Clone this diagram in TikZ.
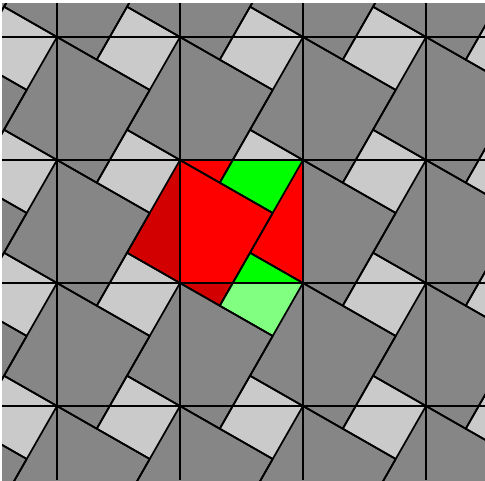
\documentclass[tikz,border=0pt]{standalone}
\usepackage{xcolor}
\definecolor{bigtile}{HTML}{868686}
\definecolor{smalltile}{HTML}{CACACA}
\definecolor{hypred}{HTML}{FF0000}
\definecolor{outred}{HTML}{D20000}
\definecolor{hypgreen}{HTML}{00FF00}
\definecolor{outgreen}{HTML}{80FF80}
\usetikzlibrary{calc}
\tikzset{
  bigfill/.style  ={fill=bigtile},
  smallfill/.style={fill=smalltile},
  tileedge/.style ={draw=black,line width=1.7pt,line join=round},
  gridline/.style ={draw=black,line width=1.5pt},
}
\newcommand{\side}{123}
\newcommand{\tilt}{29.74}
\newcommand{\bigsq}[1]{(#1) -- ++(\tilt:\bigside) -- ++(\tilt+90:\bigside) -- ++(\tilt+180:\bigside) -- cycle}
\newcommand{\smallsq}[1]{(#1) -- ++(\tilt+180:\smallside) -- ++(\tilt+90:\smallside) -- ++(\tilt:\smallside) -- cycle}

\begin{document}
\begin{tikzpicture}[x=1pt,y=-1pt]
\pgfmathsetmacro{\bigside}{\side*cos(\tilt)}
\pgfmathsetmacro{\smallside}{\side*sin(\tilt)}
\fill[white] (0,0) rectangle (485,480);
\useasboundingbox (0,0) rectangle (485,480);
\begin{scope}
\clip (2,3) rectangle (485,480);
% grey tiling
\foreach \i in {-2,...,3}
  \foreach \j in {-2,...,3}{
    \coordinate (L) at ({180+\side*\i},{160+\side*\j});
    \fill[bigfill] \bigsq{L};
    \fill[smallfill] \smallsq{L};
  }
% the two squares on the legs
\coordinate (B) at (180,160);
\coordinate (S) at (303,283);
\fill[outred] \bigsq{B};
\fill[outgreen] \smallsq{S};
% pieces inside the hypotenuse square
\begin{scope}
  \clip (180,160) rectangle (303,283);
  \foreach \i in {-1,...,1}
    \foreach \j in {-1,...,1}{
      \coordinate (L) at ({180+\side*\i},{160+\side*\j});
      \fill[hypred] \bigsq{L};
      \fill[hypgreen] \smallsq{L};
    }
\end{scope}
\foreach \i in {-2,...,3}
  \foreach \j in {-2,...,3}{
    \coordinate (L) at ({180+\side*\i},{160+\side*\j});
    \draw[tileedge] \bigsq{L} \smallsq{L};
  }
% square grid
\foreach \k in {-1,...,2}{
  \draw[gridline] ({180+\side*\k},0) -- ({180+\side*\k},480);
  \draw[gridline] (0,{160+\side*\k}) -- (485,{160+\side*\k});
}
\end{scope}
\end{tikzpicture}
\end{document}
